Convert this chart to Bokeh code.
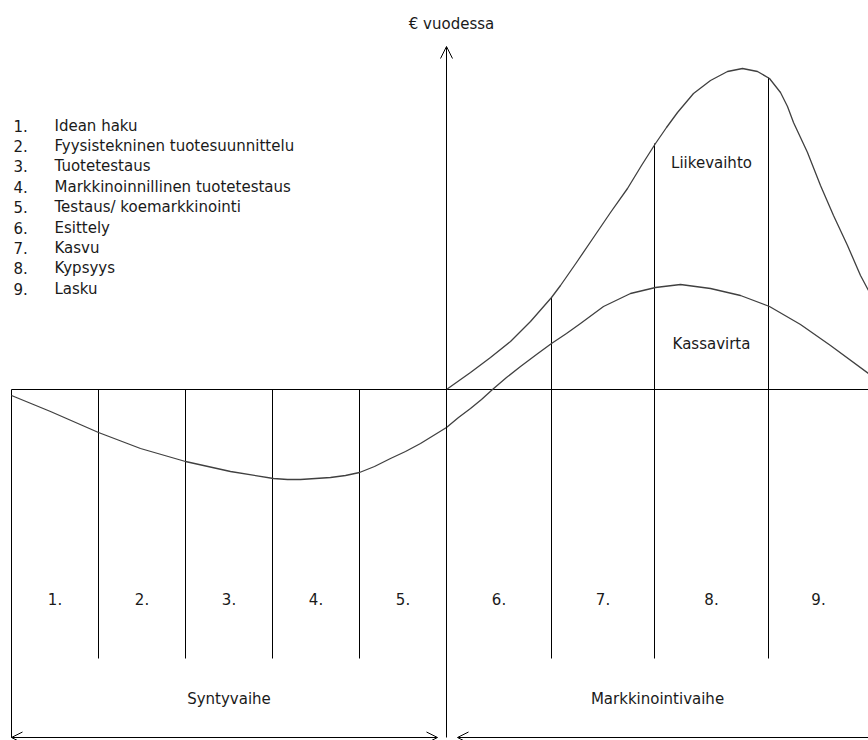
from bokeh.plotting import figure
from bokeh.models import Range1d, Arrow, OpenHead
from bokeh.embed import file_html
from bokeh.resources import INLINE
from bokeh.core.properties import value

# ---- data (x = time, 0 = product launch; y = € per year, 0 = break-even line) ----
stage_edges = [-435, -348, -261, -174, -87, 0, 105, 208, 322, 422]
stage_labels = ["1.", "2.", "3.", "4.", "5.", "6.", "7.", "8.", "9."]
stage_names = ["Idean haku", "Fyysistekninen tuotesuunnittelu", "Tuotetestaus",
               "Markkinoinnillinen tuotetestaus", "Testaus/ koemarkkinointi",
               "Esittely", "Kasvu", "Kypsyys", "Lasku"]
phase_names = ["Syntyvaihe", "Markkinointivaihe"]

kassavirta_x = [-435, -396, -348, -306, -261, -216, -173, -159, -146, -131, -116, -101, -87,
                -72, -56, -41, -26, -13, 0, 12, 24, 35, 46, 60, 74, 90, 105, 120, 134,
                157, 184, 209, 234, 264, 294, 323, 354, 384, 422]
kassavirta_y = [-6, -22, -43, -59, -72, -82, -89, -90, -90, -89, -88, -86, -83,
                -77, -69, -62, -54, -46, -38, -28, -19, -10, 0, 12, 23, 35, 46, 56, 66,
                83, 96, 102, 105, 101, 94, 83, 65, 44, 16]

liikevaihto_x = [0, 24, 44, 64, 84, 105, 114, 130, 147, 164, 181, 195, 209, 220, 231,
                 247, 264, 281, 296, 311, 323, 334, 341, 347, 354, 361, 374, 387, 401, 414, 422]
liikevaihto_y = [0, 17, 32, 48, 68, 92, 104, 127, 152, 177, 201, 224, 246, 262, 277,
                 296, 309, 318, 321, 318, 311, 297, 283, 267, 252, 237, 204, 174, 144, 114, 99]

# tops of the stage dividers -348, -261, -174, -87, 105, 208, 322
# (market-phase dividers end on the turnover curve)
divider_top = [0, 0, 0, 0, 92, 246, 312]
divider_bottom = -269
axis_bottom = -348
axis_top = 343

FONT = value("DejaVu Sans")
FS = "15px"
TXT = "#1a1a1a"

p = figure(width=868, height=740, output_backend="svg", toolbar_location=None,
           x_range=Range1d(-446, 422), y_range=Range1d(-351, 389),
           min_border=0, x_axis_location=None, y_axis_location=None,
           background_fill_color="white", border_fill_color="white")
p.outline_line_color = None
p.grid.visible = False

# break-even line
p.segment(x0=[stage_edges[0]], y0=[0], x1=[stage_edges[-1]], y1=[0],
          line_color="black", line_width=1)

# stage dividers (all inner edges except the vertical axis)
div_x = [e for e in stage_edges[1:-1] if e != 0]
p.segment(x0=div_x, y0=divider_top, x1=div_x, y1=[divider_bottom] * len(div_x),
          line_color="black", line_width=1)

# left border
p.segment(x0=[stage_edges[0]], y0=[0], x1=[stage_edges[0]], y1=[axis_bottom],
          line_color="black", line_width=1)

# vertical axis with arrow
p.add_layout(Arrow(end=OpenHead(size=12, line_width=1, line_color="black"),
                   x_start=0, y_start=axis_bottom, x_end=0, y_end=axis_top,
                   line_color="black", line_width=1))

# phase arrows
p.add_layout(Arrow(start=OpenHead(size=11, line_width=1, line_color="black"),
                   end=OpenHead(size=11, line_width=1, line_color="black"),
                   x_start=stage_edges[0], y_start=axis_bottom, x_end=-9, y_end=axis_bottom,
                   line_color="black", line_width=1))
p.add_layout(Arrow(start=OpenHead(size=11, line_width=1, line_color="black"), end=None,
                   x_start=11, y_start=axis_bottom, x_end=stage_edges[-1] + 10, y_end=axis_bottom,
                   line_color="black", line_width=1))

# curves
p.line(kassavirta_x, kassavirta_y, line_color="#404040", line_width=1.3, line_join="round")
p.line(liikevaihto_x, liikevaihto_y, line_color="#404040", line_width=1.3, line_join="round")

# stage numbers
mids = [(a + b) / 2 for a, b in zip(stage_edges[:-1], stage_edges[1:])]
p.text(x=mids, y=[-209] * len(mids), text=stage_labels, text_font=FONT,
       text_font_size=FS, text_align="center", text_baseline="middle", text_color=TXT)

# phase names
p.text(x=[(stage_edges[0] + 0) / 2, (0 + stage_edges[-1]) / 2], y=[-309, -309], text=phase_names,
       text_font=FONT, text_font_size=FS, text_align="center", text_baseline="middle",
       text_color=TXT)

# curve labels and axis title
p.text(x=[265, 265, 5], y=[227, 46, 366], text=["Liikevaihto", "Kassavirta", "€ vuodessa"],
       text_font=FONT, text_font_size=FS, text_align="center", text_baseline="middle",
       text_color=TXT)

# stage list
rows = [264 - 20.4 * i for i in range(len(stage_names))]
p.text(x=[-433] * len(rows), y=rows, text=stage_labels, text_font=FONT, text_font_size=FS,
       text_align="left", text_baseline="middle", text_color=TXT)
p.text(x=[-392] * len(rows), y=rows, text=stage_names, text_font=FONT, text_font_size=FS,
       text_align="left", text_baseline="middle", text_color=TXT)

open("out.html", "w").write(file_html(p, INLINE))
